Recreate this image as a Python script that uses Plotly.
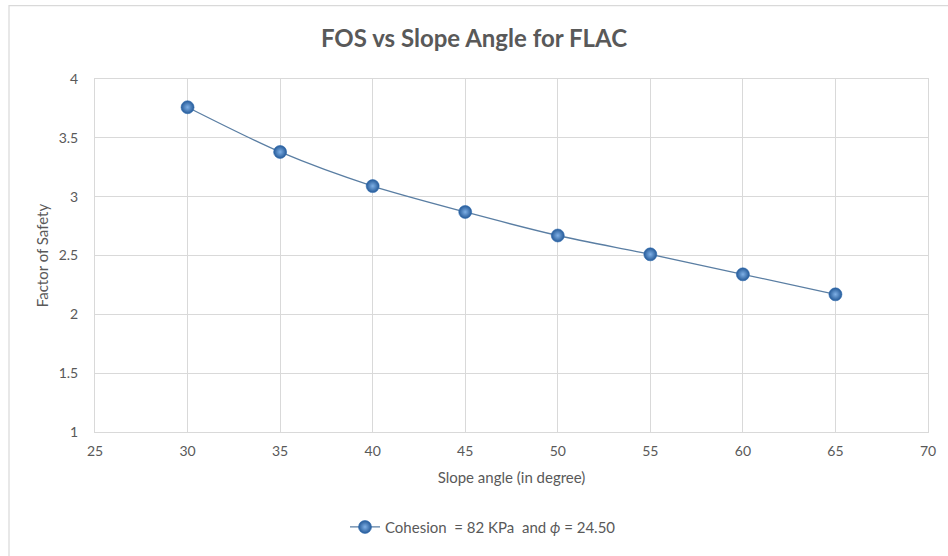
import plotly.graph_objects as go

# Slope angle (degrees) and computed factor of safety
slope_angle = [30, 35, 40, 45, 50, 55, 60, 65]
factor_of_safety = [3.76, 3.38, 3.09, 2.87, 2.67, 2.51, 2.34, 2.17]

x_ticks = [25, 30, 35, 40, 45, 50, 55, 60, 65, 70]
y_ticks = [1, 1.5, 2, 2.5, 3, 3.5, 4]

series_name = "Cohesion  = 82 KPa  and <i>ϕ</i> = 24.50"
title_text = "FOS vs Slope Angle for FLAC"

FONT = "Lato, 'Open Sans', sans-serif"
TEXT_GRAY = "#595959"
GRID = "#d9d9d9"

fig = go.Figure()
fig.add_trace(go.Scatter(
    x=slope_angle,
    y=factor_of_safety,
    mode="lines+markers",
    name=series_name,
    line=dict(color="#5a7ea3", width=1.3, shape="spline", smoothing=0.8),
    marker=dict(
        size=13,
        color="#255a98",
        gradient=dict(type="radial", color="#7fb0e6"),
        line=dict(color="#2f6bb0", width=0.6),
    ),
))

fig.update_layout(
    width=948,
    height=556,
    paper_bgcolor="white",
    plot_bgcolor="white",
    margin=dict(l=95, r=20, t=79, b=121),
    font=dict(family=FONT, color=TEXT_GRAY, size=14),
    title=dict(
        text=title_text,
        x=0.5, xref="container", xanchor="center",
        y=1 - 39 / 556, yref="container", yanchor="middle",
        font=dict(family=FONT, size=24, color=TEXT_GRAY, weight="bold"),
    ),
    showlegend=True,
    legend=dict(
        orientation="h",
        x=(483 - 95) / 833, xanchor="center", xref="paper",
        y=-(531 - 435) / 356, yanchor="middle",
        font=dict(family=FONT, size=15, color=TEXT_GRAY),
        bgcolor="rgba(0,0,0,0)",
    ),
    xaxis=dict(
        range=[25, 70],
        tickvals=x_ticks,
        ticktext=[str(v) for v in x_ticks],
        showgrid=True,
        gridcolor=GRID,
        gridwidth=1,
        zeroline=False,
        showline=True,
        linecolor=GRID,
        linewidth=1,
        mirror=True,
        ticks="",
        ticklabelstandoff=6,
        tickfont=dict(family=FONT, size=14, color=TEXT_GRAY),
        title=dict(text="Slope angle (in degree)", standoff=14,
                   font=dict(family=FONT, size=15, color=TEXT_GRAY)),
    ),
    yaxis=dict(
        range=[1, 4],
        tickvals=y_ticks,
        ticktext=[f"{v:g}" for v in y_ticks],
        showgrid=True,
        gridcolor=GRID,
        gridwidth=1,
        zeroline=False,
        showline=True,
        linecolor=GRID,
        linewidth=1,
        mirror=True,
        ticks="",
        ticklabelstandoff=13,
        tickfont=dict(family=FONT, size=14, color=TEXT_GRAY),
        title=dict(text="Factor of Safety", standoff=6,
                   font=dict(family=FONT, size=15, color=TEXT_GRAY)),
    ),
)

# Chart-area border (left and top edges fall inside the page)
fig.add_shape(
    type="rect", xref="paper", yref="paper",
    x0=-(95 - 9) / 833, x1=(948 + 20 - 95) / 833,
    y0=-(580 - 435) / 356, y1=1 + (79 - 5) / 356,
    line=dict(color="#d9d9d9", width=1.2),
    fillcolor="rgba(0,0,0,0)",
    layer="below",
)

fig.write_html("out.html")
